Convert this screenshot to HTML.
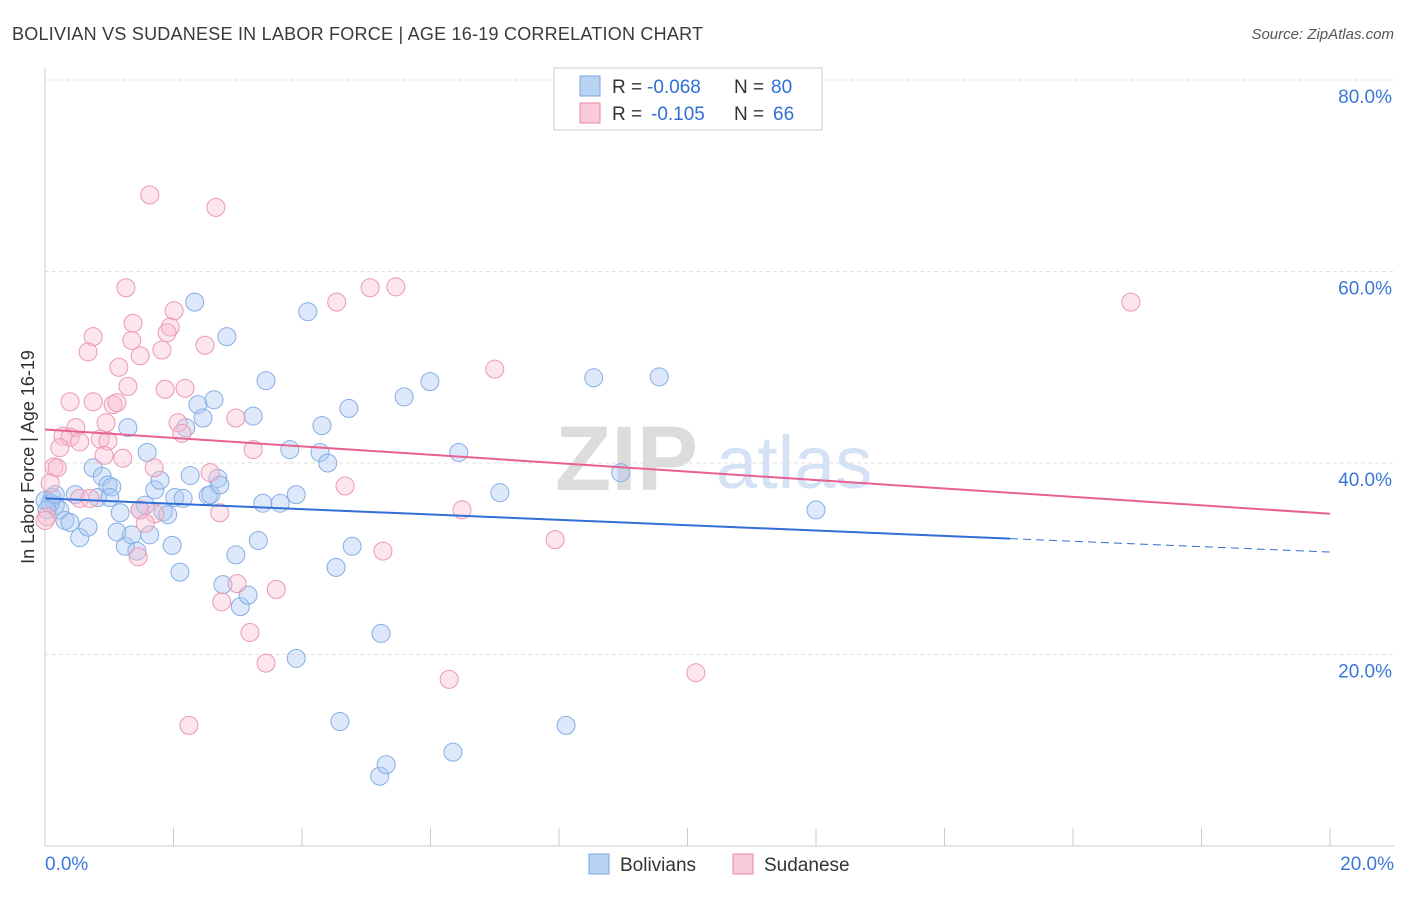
<!DOCTYPE html>
<html><head><meta charset="utf-8"><style>
body{margin:0;background:#fff;font-family:"Liberation Sans",sans-serif}
svg text{font-family:"Liberation Sans",sans-serif}
</style></head><body>
<svg id="chart" width="1406" height="892">
<text x="12" y="40" font-size="18" fill="#3a3a3a" textLength="691">BOLIVIAN VS SUDANESE IN LABOR FORCE | AGE 16-19 CORRELATION CHART</text>
<text x="1394" y="39" font-size="15" fill="#555" text-anchor="end" font-style="italic">Source: ZipAtlas.com</text>
<g><text x="555" y="490" font-size="92" fill="#dcdcdc" font-family="Liberation Serif" font-weight="bold">ZIP</text><text x="716" y="488" font-size="74" fill="#d3e2f5">atlas</text></g>
<g id="grid"></g>
<line x1="45" y1="68" x2="45" y2="846" stroke="#ccc"/>
<line x1="45" y1="846" x2="1394" y2="846" stroke="#ccc"/>
<text transform="translate(34,457) rotate(-90)" font-size="18" fill="#333" text-anchor="middle">In Labor Force | Age 16-19</text>
<g id="points"></g>
<g id="trends"></g>
<g>
<rect x="554" y="68" width="268" height="62" fill="#fff" stroke="#ccc"/>
<rect x="580" y="76" width="20" height="20" fill="#b9d3f3" stroke="#7aa6e0"/>
<rect x="580" y="103" width="20" height="20" fill="#f9cad8" stroke="#e88aa8"/>
<text x="612" y="93" font-size="19" fill="#333">R =</text>
<text x="647" y="93" font-size="19" fill="#2f6fd6">-0.068</text>
<text x="734" y="93" font-size="19" fill="#333">N =</text>
<text x="771" y="93" font-size="19" fill="#2f6fd6">80</text>
<text x="612" y="120" font-size="19" fill="#333">R =</text>
<text x="651" y="120" font-size="19" fill="#2f6fd6">-0.105</text>
<text x="734" y="120" font-size="19" fill="#333">N =</text>
<text x="773" y="120" font-size="19" fill="#2f6fd6">66</text>
</g>
<g>
<rect x="589" y="854" width="20" height="20" fill="#b9d3f3" stroke="#7aa6e0"/>
<text x="620" y="871" font-size="19" fill="#333">Bolivians</text>
<rect x="733" y="854" width="20" height="20" fill="#f9cad8" stroke="#e88aa8"/>
<text x="764" y="871" font-size="19" fill="#333">Sudanese</text>
</g>
<text x="45" y="870" font-size="19" fill="#3a78d8">0.0%</text>
<text x="1394" y="870" font-size="19" fill="#3a78d8" text-anchor="end">20.0%</text>
</svg>
<script>
const yTicks=[20,40,60,80];
const xTicks=[0,2,4,6,8,10,12,14,16,18,20];
const bolPx=[[52,497],[55,505],[60,510],[65,520],[70,522],[75,495],[80,538],[88,527],[93,468],[98,497],[102,476],[108,485],[112,487],[110,497],[117,532],[120,513],[125,546],[128,428],[132,535],[137,551],[140,510],[145,505],[147,452],[150,535],[155,490],[160,480],[163,512],[168,515],[172,545],[175,497],[180,572],[183,498],[186,428],[190,475],[195,302],[198,405],[203,418],[208,496],[211,495],[214,400],[218,478],[220,485],[223,585],[227,337],[236,555],[240,607],[248,595],[253,416],[258,541],[263,503],[266,381],[280,503],[290,450],[296,495],[296,658],[308,312],[320,452],[322,426],[328,463],[336,567],[340,722],[349,408],[352,546],[380,776],[381,633],[386,765],[404,397],[430,382],[453,752],[459,452],[500,493],[566,725],[594,378],[621,473],[659,377],[816,510],[45,500],[50,503],[47,510],[55,495]];
const sudPx=[[150,195],[216,207],[126,288],[370,288],[396,287],[337,302],[1131,302],[174,311],[133,323],[170,327],[167,333],[93,337],[132,340],[205,345],[88,352],[162,350],[140,356],[119,367],[495,369],[128,386],[165,389],[185,388],[70,402],[93,402],[113,405],[117,403],[178,423],[236,418],[106,423],[76,428],[63,436],[70,437],[80,442],[100,439],[108,441],[182,433],[253,450],[60,448],[104,455],[123,458],[54,467],[57,468],[154,468],[210,473],[345,486],[80,498],[90,498],[140,510],[155,514],[145,523],[220,513],[462,510],[47,517],[555,540],[383,551],[138,557],[237,584],[276,589],[222,602],[250,632],[266,663],[449,679],[696,673],[189,725],[45,520],[50,483]];
const bolX=bolPx.map(p=>+((p[0]-45)/64.25).toFixed(2));
const bolY=bolPx.map(p=>+((846-p[1])/9.575).toFixed(1));
const sudX=sudPx.map(p=>+((p[0]-45)/64.25).toFixed(2));
const sudY=sudPx.map(p=>+((846-p[1])/9.575).toFixed(1));
const bolTrend=[36.3,32.1,30.7];
const sudTrend=[43.5,34.7];
const xs=v=>45+v*64.25, ys=v=>846-v*9.575;
const NS="http://www.w3.org/2000/svg";
function mk(t,a,p){const e=document.createElementNS(NS,t);for(const k in a)e.setAttribute(k,a[k]);p.appendChild(e);return e;}
const grid=document.getElementById('grid');
yTicks.forEach(t=>{
 const l=mk('line',{x1:45,x2:1394,y1:ys(t),y2:ys(t),stroke:'#e0e0e0','stroke-dasharray':'4,3'},grid);
 
 
 const tx=mk('text',{x:1392,y:ys(t)+23,'font-size':19,fill:'#3a78d8','text-anchor':'end'},grid);
 tx.textContent=t.toFixed(1)+'%';
 
 
});
xTicks.forEach(t=>{
 const l=mk('line',{x1:xs(t),x2:xs(t),y1:828,y2:846,stroke:'#ccc'},grid);
 
 
});
const pts=document.getElementById('points');
bolX.forEach((x,i)=>{
 const c=mk('circle',{cx:xs(x),cy:ys(bolY[i]),r:9,fill:'rgba(170,200,242,0.4)',stroke:'#85aee4','stroke-width':1},pts);
 
 
});
sudX.forEach((x,i)=>{
 const c=mk('circle',{cx:xs(x),cy:ys(sudY[i]),r:9,fill:'rgba(248,190,208,0.4)',stroke:'#eb98b3','stroke-width':1},pts);
 
 
});
const tr=document.getElementById('trends');
let a=mk('line',{x1:xs(0),y1:ys(bolTrend[0]),x2:xs(15.02),y2:ys(bolTrend[1]),stroke:'#2f6fd6','stroke-width':2},tr);


a=mk('line',{x1:xs(15.02),y1:ys(bolTrend[1]),x2:xs(20),y2:ys(bolTrend[2]),stroke:'#2f6fd6','stroke-width':1,'stroke-dasharray':'8,5'},tr);


a=mk('line',{x1:xs(0),y1:ys(sudTrend[0]),x2:xs(20),y2:ys(sudTrend[1]),stroke:'#e8608f','stroke-width':2},tr);


</script>
</body></html>
